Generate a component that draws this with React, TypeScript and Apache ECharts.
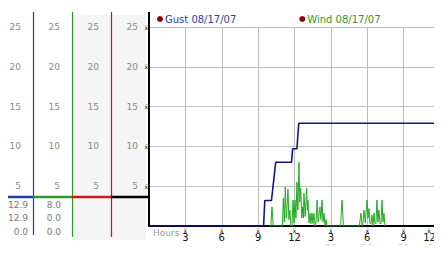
import React, { useEffect, useRef } from "react";
import * as echarts from "echarts";

// ---- data ----
const gustHours = [0, 9.45, 9.55, 10.1, 10.45, 11.75, 11.85, 12.2, 12.35, 23.5];
const gustValues = [0, 0, 3.2, 3.2, 8.0, 8.0, 9.7, 9.7, 12.9, 12.9];

const windHours = [
  9.9, 10.05, 10.14, 10.25, 11.0, 11.08, 11.16, 11.24, 11.32, 11.4, 11.46, 11.54, 11.62, 11.7,
  11.8, 11.88, 11.96, 12.04, 12.12, 12.2, 12.28, 12.37, 12.44, 12.51, 12.6, 12.68, 12.73, 12.78,
  12.88, 13.0, 13.06, 13.11, 13.2, 13.28, 13.36, 13.44, 13.52, 13.6, 13.7, 13.78, 13.86, 13.95,
  14.1, 14.18, 14.27, 14.35, 14.43, 14.52, 14.6, 14.68, 15.8, 15.92, 16.04, 17.35, 17.48, 17.58,
  17.65, 17.73, 17.84, 17.98, 18.06, 18.14, 18.22, 18.3, 18.39, 18.47, 18.56, 18.64, 18.72, 18.8,
  18.88, 18.97, 19.05, 19.14, 19.22, 19.3, 19.38, 19.46,
];
const windValues = [
  0, 0, 2.4, 0, 0, 3.5, 0.5, 4.9, 1.0, 3.0, 4.6, 0.8, 2.0, 0,
  0, 3.25, 0.4, 3.25, 1.0, 5.5, 2.0, 8.0, 3.0, 4.75, 1.0, 2.4, 1.0, 4.1,
  1.2, 4.75, 2.0, 3.25, 0.4, 1.6, 0.3, 1.6, 0.3, 1.6, 0, 0.5, 3.25, 0.5,
  2.4, 0.8, 3.25, 0.5, 1.6, 0, 0.8, 0, 0, 3.25, 0, 0, 1.6, 0,
  0.4, 2.0, 0.4, 3.25, 1.0, 2.2, 0.3, 0.3, 1.4, 0, 1.6, 0.3, 0.3, 3.25,
  0.5, 2.0, 0.3, 0.3, 3.25, 0.5, 1.6, 0,
];

const hourTicks = [3, 6, 9, 12, 15, 18, 21, 24];
const tickLabels = ["3", "6", "9", "12", "3", "6", "9", "12"];
const altTickLabels = ["", "", "", "", "15", "18", "21", "24"];

const gustStats = ["12.9", "12.9", "0.0"];
const windStats = ["8.0", "0.0", "0.0"];

const seriesNames = ["Gust 08/17/07", "Wind 08/17/07"];

const FONT = "DejaVu Sans";
const GLYPH = "ẍ";

export default function App() {
  const ref = useRef<HTMLDivElement>(null);

  useEffect(() => {
    if (!ref.current) return;
    const chart = echarts.init(ref.current, undefined, { renderer: "svg" });

    const numAxis = (offset: number) => ({
      type: "value",
      min: 0,
      max: 25,
      interval: 5,
      position: "left",
      offset,
      axisLine: { show: false },
      axisTick: { show: false },
      splitLine: { show: false },
      axisLabel: {
        margin: 11,
        color: "#8a8a8a",
        fontFamily: FONT,
        fontSize: 9,
        formatter: (v: number) => (v === 0 ? "" : String(v)),
      },
    });

    const statText = (vals: string[], right: number) =>
      vals.map((t, i) => ({
        type: "text",
        x: right,
        y: 200 + i * 13.5,
        style: {
          text: t,
          fill: "#7a7a7a",
          font: `9px "${FONT}"`,
          align: "right",
          verticalAlign: "top",
        },
        z: 10,
      }));

    const mStyle = { fontSize: 6, lineHeight: 6, color: "#000", fontFamily: FONT };
    const vStyle = { fontSize: 10, lineHeight: 9, color: "#111", fontFamily: FONT };
    const gStyle = { fontSize: 9, lineHeight: 9, color: "#c4c4c4", fontFamily: FONT };

    chart.setOption({
      animation: false,
      grid: {
        left: 149,
        right: 2,
        top: 27,
        bottom: 27,
        containLabel: false,
        outerBoundsMode: "none",
      },
      legend: {
        left: 157,
        top: 14,
        padding: 0,
        itemWidth: 6,
        itemHeight: 6,
        itemGap: 63,
        icon: "circle",
        textStyle: { fontFamily: FONT, fontSize: 10, padding: [0, 0, 0, -3] },
        data: [
          { name: seriesNames[0], itemStyle: { color: "#8b0000" }, textStyle: { color: "#2a3fa8" } },
          { name: seriesNames[1], itemStyle: { color: "#8b0000" }, textStyle: { color: "#2e9a2e" } },
        ],
      },
      xAxis: [
        {
          type: "value",
          min: 0,
          max: 24,
          interval: 3,
          axisLine: { show: true, lineStyle: { color: "#000", width: 2 } },
          axisTick: { show: false },
          splitLine: { show: true, lineStyle: { color: "#bdbdbd", width: 1 } },
          axisLabel: {
            margin: 1,
            showMinLabel: false,
            formatter: (v: number) => {
              const i = hourTicks.indexOf(v);
              if (i < 0) return "";
              const s = i === hourTicks.length - 1 ? "L" : "";
              return `{m${s}|${GLYPH}}\n{v${s}|${tickLabels[i]}}`;
            },
            rich: {
              m: mStyle,
              v: vStyle,
              mL: { ...mStyle, padding: [0, 22, 0, 0] },
              vL: { ...vStyle, padding: [0, 21, 0, 0] },
            },
          },
        },
        {
          type: "value",
          min: 0,
          max: 24,
          interval: 3,
          position: "bottom",
          offset: 0,
          axisLine: { show: false },
          axisTick: { show: false },
          splitLine: { show: false },
          axisLabel: {
            margin: 17,
            showMinLabel: false,
            showMaxLabel: true,
            formatter: (v: number) => {
              const i = hourTicks.indexOf(v);
              if (i < 0 || !altTickLabels[i]) return "";
              const s = i === hourTicks.length - 1 ? "L" : "";
              return `{g${s}|${altTickLabels[i]}}`;
            },
            rich: {
              g: gStyle,
              gL: { ...gStyle, padding: [0, 12, 0, 0] },
            },
          },
        },
      ],
      yAxis: [
        {
          type: "value",
          min: 0,
          max: 25,
          interval: 5,
          position: "left",
          axisLine: { show: true, lineStyle: { color: "#000", width: 2 } },
          axisTick: { show: false },
          splitLine: { show: true, lineStyle: { color: "#bdbdbd", width: 1 } },
          axisLabel: {
            margin: 1,
            fontSize: 6,
            color: "#000",
            fontFamily: FONT,
            formatter: (v: number) => (v === 0 ? "" : GLYPH),
          },
        },
        numAxis(0),
        numAxis(39),
        numAxis(78),
        numAxis(117),
      ],
      series: [
        {
          name: seriesNames[0],
          type: "line",
          xAxisIndex: 0,
          yAxisIndex: 0,
          symbol: "none",
          z: 4,
          lineStyle: { color: "#14148a", width: 1.6 },
          itemStyle: { color: "#14148a" },
          data: gustHours.map((h, i) => [h, gustValues[i]]),
        },
        {
          name: seriesNames[1],
          type: "line",
          xAxisIndex: 0,
          yAxisIndex: 0,
          symbol: "none",
          z: 3,
          lineStyle: { color: "#22aa22", width: 1 },
          itemStyle: { color: "#22aa22" },
          data: windHours.map((h, i) => [h, windValues[i]]),
        },
      ],
      graphic: [
        { type: "rect", shape: { x: 72, y: 15, width: 74, height: 225 }, style: { fill: "#f5f5f5" }, z: -10 },
        { type: "line", shape: { x1: 33.5, y1: 12, x2: 33.5, y2: 235 }, style: { stroke: "#1f3fb0", lineWidth: 1.2 }, z: 5 },
        { type: "line", shape: { x1: 72.5, y1: 12, x2: 72.5, y2: 237 }, style: { stroke: "#2a9a2a", lineWidth: 1.2 }, z: 5 },
        { type: "line", shape: { x1: 111.5, y1: 12, x2: 111.5, y2: 237 }, style: { stroke: "#b02020", lineWidth: 1.2 }, z: 5 },
        { type: "line", shape: { x1: 149, y1: 12, x2: 149, y2: 28 }, style: { stroke: "#000", lineWidth: 2 }, z: 5 },
        { type: "line", shape: { x1: 0, y1: 197, x2: 33, y2: 197 }, style: { stroke: "#1f3fb0", lineWidth: 2.5 }, z: 6 },
        { type: "line", shape: { x1: 33, y1: 197, x2: 72, y2: 197 }, style: { stroke: "#2a9a2a", lineWidth: 2.5 }, z: 6 },
        { type: "line", shape: { x1: 72, y1: 197, x2: 111, y2: 197 }, style: { stroke: "#d01818", lineWidth: 2.5 }, z: 6 },
        { type: "line", shape: { x1: 111, y1: 197, x2: 149, y2: 197 }, style: { stroke: "#000", lineWidth: 2.5 }, z: 6 },
        ...statText(gustStats, 28),
        ...statText(windStats, 61),
        {
          type: "text",
          x: 153,
          y: 228,
          style: { text: "Hours", fill: "#999", font: `9px "${FONT}"`, verticalAlign: "top" },
          z: 10,
        },
      ],
    });

    return () => chart.dispose();
  }, []);

  return <div ref={ref} style={{ width: 442, height: 253, margin: -8 }} />;
}
